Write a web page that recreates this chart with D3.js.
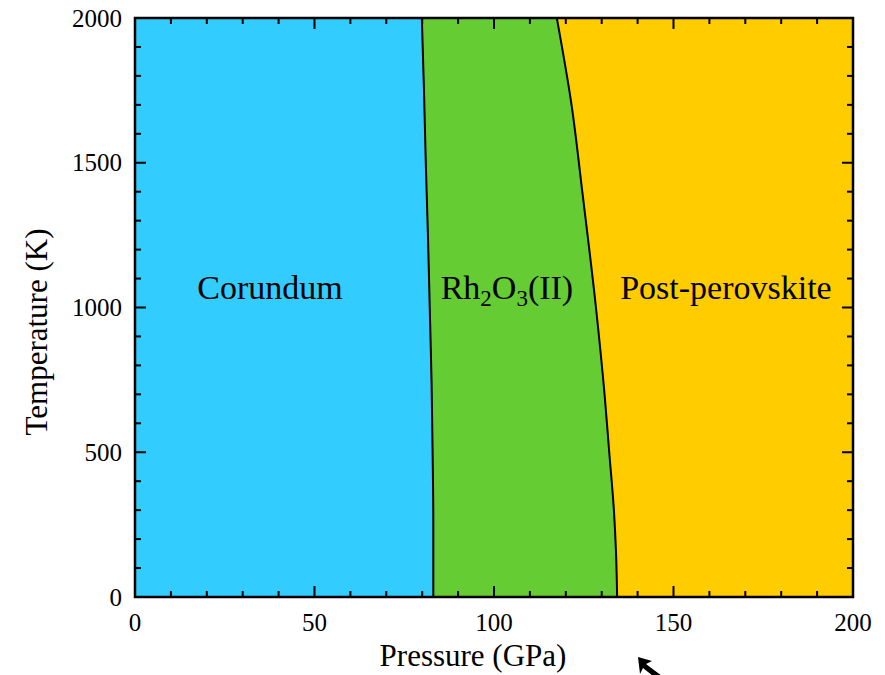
<!DOCTYPE html>
<html>
<head>
<meta charset="utf-8">
<script src="https://cdn.jsdelivr.net/npm/d3@7"></script>
<style>
  body { margin: 0; background: #fff; }
  svg { display: block; font-family: "Liberation Serif", "Times New Roman", serif; }
</style>
</head>
<body>
<div id="chart"></div>
<script>
// Phase diagram: pressure (GPa) vs temperature (K)

const WIDTH = 885;
const HEIGHT = 675;

// boundary corundum / Rh2O3(II)
const b1Temp = [0, 250, 500, 750, 1000, 1250, 1500, 1750, 2000];
const b1Press = [83.1, 83.1, 82.9, 82.6, 82.1, 81.6, 81.0, 80.5, 79.9];

// boundary Rh2O3(II) / post-perovskite
const b2Temp = [0, 150, 300, 500, 700, 1000, 1400, 1700, 2000];
const b2Press = [134.3, 134.0, 133.4, 132.1, 130.8, 128.4, 124.6, 121.6, 117.5];

const xTicks = [0, 50, 100, 150, 200];
const yTicks = [0, 500, 1000, 1500, 2000];

const phaseNames = ['Corundum', 'Rh2O3(II)', 'Post-perovskite'];
const phaseColors = ['#33CCFF', '#66CC33', '#FFCC00'];
// label anchor (pressure, temperature)
const labelPress = [37.6, 103.6, 164.6];
const labelTemp = [1030, 1030, 1030];

const margin = {left: 135, right: 32, top: 18, bottom: 78};

const x = d3.scaleLinear().domain([0, 200]).range([margin.left, WIDTH - margin.right]);
const y = d3.scaleLinear().domain([0, 2000]).range([HEIGHT - margin.bottom, margin.top]);

const svg = d3.select('#chart').append('svg')
	.attr('width', WIDTH)
	.attr('height', HEIGHT);

const b1 = b1Temp.map((t, i) => ({t: t, p: b1Press[i]}));
const b2 = b2Temp.map((t, i) => ({t: t, p: b2Press[i]}));

const curve = d3.curveMonotoneY;

// region fills
svg.append('path')
	.datum(b1)
	.attr('fill', phaseColors[0])
	.attr('d', d3.area().curve(curve).y(d => y(d.t)).x0(x(0)).x1(d => x(d.p)));

svg.append('path')
	.datum(b2)
	.attr('fill', phaseColors[2])
	.attr('d', d3.area().curve(curve).y(d => y(d.t)).x0(d => x(d.p)).x1(x(200)));

// middle region: build closed path from both boundaries
const line = d3.line().curve(curve).x(d => x(d.p)).y(d => y(d.t));
const mid = line(b1) + 'L' + line(b2.slice().reverse()).slice(1) + 'Z';
svg.append('path')
	.attr('fill', phaseColors[1])
	.attr('d', mid);

// boundary lines
[b1, b2].forEach(b => {
	svg.append('path')
		.datum(b)
		.attr('fill', 'none')
		.attr('stroke', '#000')
		.attr('stroke-width', 2)
		.attr('d', line);
});

// ticks (inward, on all four sides)
const tickG = svg.append('g').attr('stroke', '#000').attr('stroke-width', 2);
d3.range(0, 201, 10).forEach(v => {
	const len = v % 50 === 0 ? 11 : 6;
	const xx = x(v);
	tickG.append('line').attr('x1', xx).attr('x2', xx).attr('y1', y(0)).attr('y2', y(0) - len);
	tickG.append('line').attr('x1', xx).attr('x2', xx).attr('y1', y(2000)).attr('y2', y(2000) + len);
});
d3.range(0, 2001, 100).forEach(v => {
	const len = v % 500 === 0 ? 11 : 6;
	const yy = y(v);
	tickG.append('line').attr('y1', yy).attr('y2', yy).attr('x1', x(0)).attr('x2', x(0) + len);
	tickG.append('line').attr('y1', yy).attr('y2', yy).attr('x1', x(200)).attr('x2', x(200) - len);
});

// frame
svg.append('rect')
	.attr('x', x(0)).attr('y', y(2000))
	.attr('width', x(200) - x(0)).attr('height', y(0) - y(2000))
	.attr('fill', 'none').attr('stroke', '#000').attr('stroke-width', 2.5);

// tick labels
svg.append('g').selectAll('text')
	.data(xTicks)
	.join('text')
	.attr('x', d => x(d))
	.attr('y', y(0) + 34)
	.attr('text-anchor', 'middle')
	.style('font-size', '25px')
	.text(d => d);

svg.append('g').selectAll('text')
	.data(yTicks)
	.join('text')
	.attr('x', x(0) - 13)
	.attr('y', d => y(d))
	.attr('dy', '0.34em')
	.attr('text-anchor', 'end')
	.style('font-size', '25px')
	.text(d => d);

// axis titles
svg.append('text')
	.attr('x', 473)
	.attr('y', 666)
	.attr('text-anchor', 'middle')
	.style('font-size', '31px')
	.text('Pressure (GPa)');

svg.append('text')
	.attr('transform', 'translate(47,332) rotate(-90)')
	.attr('text-anchor', 'middle')
	.style('font-size', '31px')
	.text('Temperature (K)');

// phase labels
phaseNames.forEach((name, i) => {
	const t = svg.append('text')
		.attr('x', x(labelPress[i]))
		.attr('y', y(labelTemp[i]))
		.attr('text-anchor', 'middle')
		.style('font-size', '34px');
	if (name === 'Rh2O3(II)') {
		t.append('tspan').text('Rh');
		t.append('tspan').attr('dy', 7).style('font-size', '23px').text('2');
		t.append('tspan').attr('dy', -7).text('O');
		t.append('tspan').attr('dy', 7).style('font-size', '23px').text('3');
		t.append('tspan').attr('dy', -7).text('(II)');
	} else {
		t.text(name);
	}
});

// mouse pointer visible in the screenshot
svg.append('path')
	.attr('d', 'M638,657 L652,661 L646,664 L662,676 L658,680 L643,668 L640,674 Z')
	.attr('fill', '#000');
</script>
</body>
</html>
